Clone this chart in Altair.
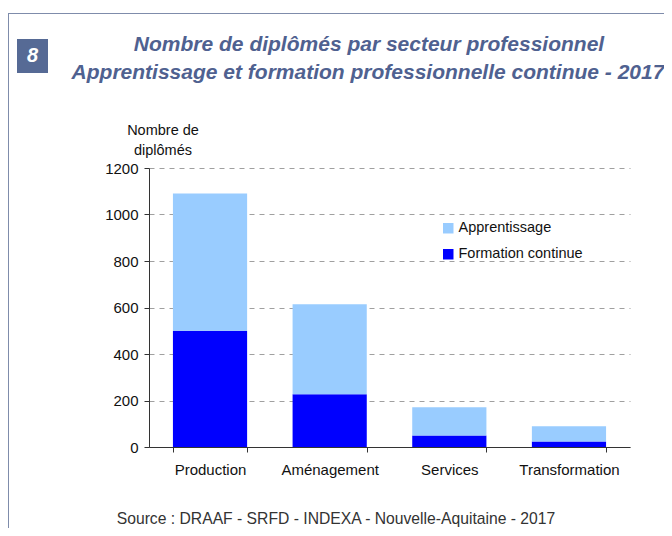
import altair as alt
import pandas as pd

categories = ["Production", "Aménagement", "Services", "Transformation"]
apprentissage = [590, 387, 121, 65]
formation_continue = [500, 227, 50, 24]
series = ["Apprentissage", "Formation continue"]
colors = ["#99ccff", "#0000ff"]
y_ticks = [0, 200, 400, 600, 800, 1000, 1200]

title_lines = ["Nombre de diplômés par secteur professionnel",
               "Apprentissage et formation professionnelle continue - 2017"]
y_title_lines = ["Nombre de", "diplômés"]
source_text = "Source : DRAAF - SRFD - INDEXA - Nouvelle-Aquitaine - 2017"
badge = "8"

FONT = "Liberation Sans"
TITLE_COLOR = "#4f6190"

rows = []
for c, a, f in zip(categories, apprentissage, formation_continue):
    rows.append({"secteur": c, "type": "Formation continue", "n": f, "ord": 0})
    rows.append({"secteur": c, "type": "Apprentissage", "n": a, "ord": 1})
df = pd.DataFrame(rows)

W, H = 481, 279

bars = alt.Chart(df).mark_bar().encode(
    x=alt.X("secteur:N", sort=categories,
            scale=alt.Scale(paddingInner=0.38, paddingOuter=0.2),
            axis=alt.Axis(title=None, labelAngle=0, tickBand="extent",
                          labelFontSize=15, labelFont=FONT, labelColor="#111",
                          labelPadding=10, tickSize=5, tickColor="#333",
                          domainColor="#333", grid=False)),
    y=alt.Y("n:Q", stack="zero", scale=alt.Scale(domain=[0, 1200], nice=False),
            axis=alt.Axis(title=None, values=y_ticks, format="d", labelFontSize=15,
                          labelFont=FONT, labelColor="#111", labelPadding=6,
                          tickSize=5, tickColor="#333", domainColor="#333",
                          grid=True, gridDash=[5, 5], gridColor="#a0a0a0")),
    color=alt.Color("type:N", scale=alt.Scale(domain=series, range=colors),
                    legend=alt.Legend(title=None, orient="none", legendX=292,
                                      legendY=53, symbolType="square",
                                      symbolSize=110, symbolStrokeWidth=0,
                                      labelFontSize=14.5, labelFont=FONT,
                                      labelColor="#111", rowPadding=11,
                                      labelOffset=3, padding=0)),
    order=alt.Order("ord:Q", sort="ascending"),
)

def text_layer(txt, x, y, size, color="#111", weight="normal", style="normal", align="center"):
    return alt.Chart(pd.DataFrame({"t": [txt]})).mark_text(
        font=FONT, fontSize=size, color=color, fontWeight=weight,
        fontStyle=style, align=align, baseline="middle"
    ).encode(text="t:N", x=alt.value(x), y=alt.value(y))

frame_top = alt.Chart(pd.DataFrame({"a": [0]})).mark_rule(color="#7f8cab", strokeWidth=1).encode(
    x=alt.value(-141), x2=alt.value(515), y=alt.value(-154.5))
frame_left = alt.Chart(pd.DataFrame({"a": [0]})).mark_rule(color="#7f8cab", strokeWidth=1).encode(
    x=alt.value(-140.5), y=alt.value(-154.5), y2=alt.value(360))
box = alt.Chart(pd.DataFrame({"a": [0]})).mark_rect(color="#566a95").encode(
    x=alt.value(-132), x2=alt.value(-101), y=alt.value(-129), y2=alt.value(-95))

layers = [
    frame_top, frame_left, box,
    text_layer(badge, -116.5, -112, 20, color="white", weight="bold", style="italic"),
    text_layer(title_lines[0], 220, -123, 21, color=TITLE_COLOR, weight="bold", style="italic"),
    text_layer(title_lines[1], 219, -95, 21, color=TITLE_COLOR, weight="bold", style="italic"),
    text_layer(y_title_lines[0], 14, -37, 14.5),
    text_layer(y_title_lines[1], 14, -17, 14.5),
    text_layer(source_text, 187, 351, 15.7, color="#333"),
    bars,
]

chart = alt.layer(*layers).properties(
    width=W, height=H,
    autosize=alt.AutoSizeParams(type="none"),
    padding={"left": 141, "top": 160, "right": 34, "bottom": 81},
    background="white",
).configure_view(stroke=None)

chart.save("out.html", embed_options={"renderer": "svg", "actions": False})
